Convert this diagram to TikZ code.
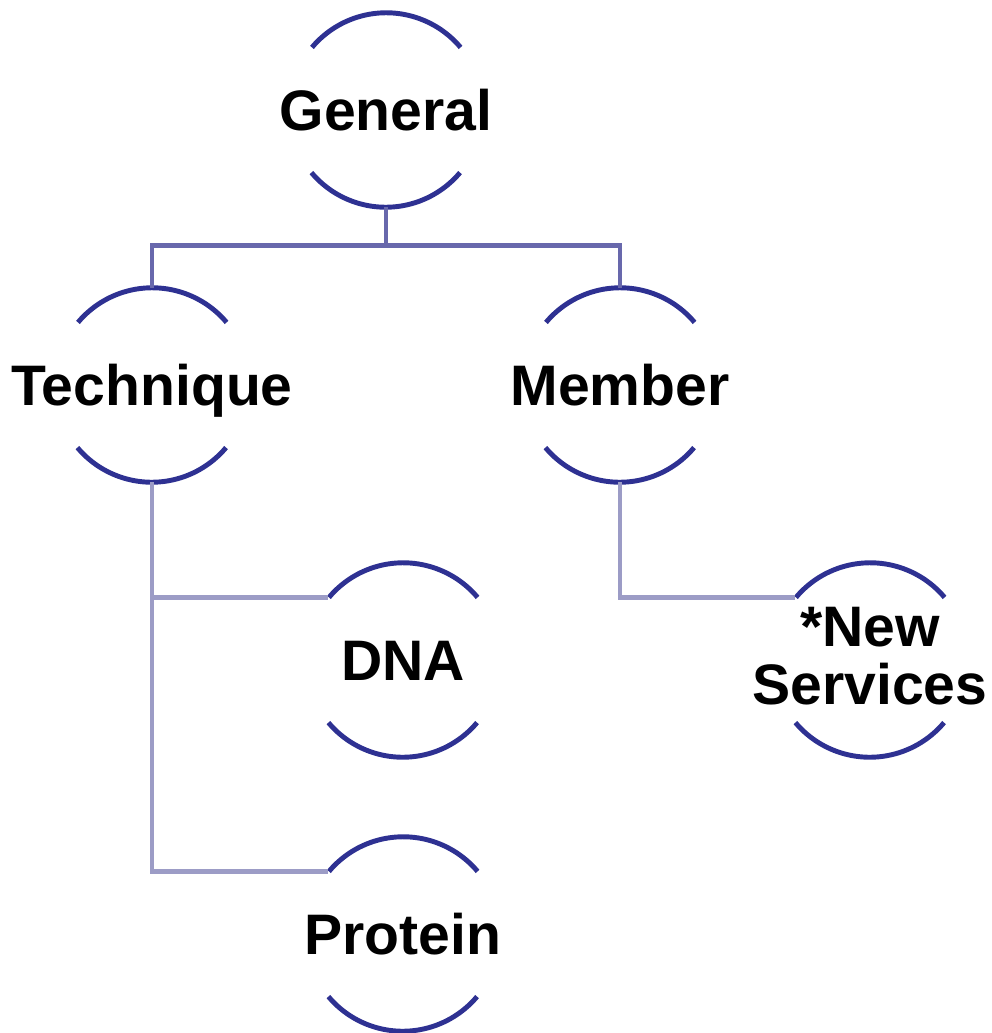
\documentclass[tikz,border=0pt]{standalone}
\usepackage{fontspec}
\setmainfont{Liberation Sans}
\definecolor{rimblue}{HTML}{2E3192}
\definecolor{trunkblue}{HTML}{6868AC}
\definecolor{twigblue}{HTML}{9C9CC6}
\tikzset{
  ring/.style={circle,minimum size=3.88cm,inner sep=0pt,draw=none},
  word/.style={font=\fontsize{32.5}{33}\selectfont\bfseries,align=center,anchor=base,yshift=-0.4cm},
  rim/.style={draw=rimblue,line width=2.8pt},
  trunk/.style={draw=trunkblue,line width=2.7pt},
  twig/.style={draw=twigblue,line width=2.7pt}
}
\begin{document}
\begin{tikzpicture}
\useasboundingbox (0,0) rectangle (19.84,-20.66);
% rings
\node[ring] (gen)  at (7.72,-2.20) {};
\node[ring] (tech) at (3.04,-7.70) {};
\node[ring] (memb) at (12.40,-7.70) {};
\node[ring] (dna)  at (8.06,-13.20) {};
\node[ring] (serv) at (17.40,-13.20) {};
\node[ring] (prot) at (8.06,-18.68) {};
% labels
\node[word] (gen-t)  at (gen)  {General};
\node[word] (tech-t) at (tech) {Technique};
\node[word] (memb-t) at (memb) {Member};
\node[word] (dna-t)  at (dna)  {DNA};
\node[word,yshift=-0.48cm] (serv-t) at (serv) {*New\\Services};
\node[word] (prot-t) at (prot) {Protein};
% arcs
\foreach \n in {gen,tech,memb,dna,serv,prot}{
  \draw[rim] (\n.40) arc[start angle=40,end angle=140,radius=1.94cm];
  \draw[rim] (\n.220) arc[start angle=220,end angle=320,radius=1.94cm];
}
% connectors
\draw[trunk] (gen.south) -- ++(0,-0.76) coordinate (split) -| (tech.north);
\draw[trunk] (split) -| (memb.north);
\draw[twig] (tech.south) |- (dna.140);
\draw[twig] (tech.south) |- (prot.140);
\draw[twig] (memb.south) |- (serv.140);
\end{tikzpicture}
\end{document}
